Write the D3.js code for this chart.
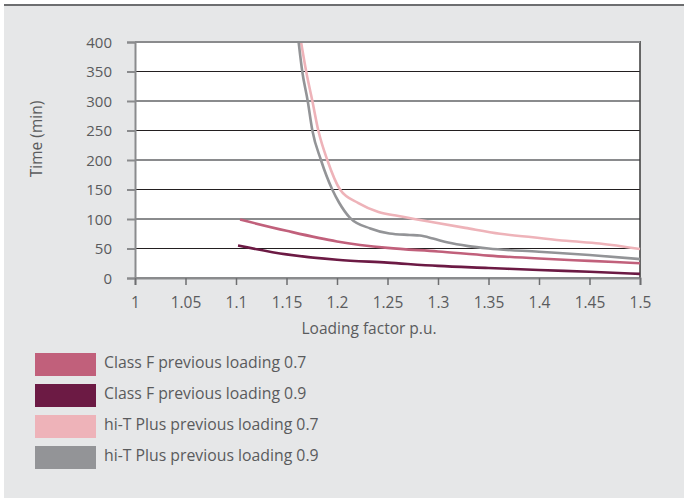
<!DOCTYPE html>
<html>
<head>
<meta charset="utf-8">
<script src="https://cdn.jsdelivr.net/npm/d3@7/dist/d3.min.js"></script>
<style>
  html, body { margin: 0; padding: 0; background: #ffffff; }
  svg { display: block; }
  text { font-family: "Open Sans", "Liberation Sans", sans-serif; font-weight: 400; fill: #5a5b5d; }
</style>
</head>
<body>
<svg id="chart" width="684" height="499"></svg>
<script>
// ---- data ----
const xTicks = [1, 1.05, 1.1, 1.15, 1.2, 1.25, 1.3, 1.35, 1.4, 1.45, 1.5];
const xTickLabels = ["1", "1.05", "1.1", "1.15", "1.2", "1.25", "1.3", "1.35", "1.4", "1.45", "1.5"];
const yTicks = [0, 50, 100, 150, 200, 250, 300, 350, 400];

const seriesNames = [
  "Class F previous loading 0.7",
  "Class F previous loading 0.9",
  "hi-T Plus previous loading 0.7",
  "hi-T Plus previous loading 0.9"
];
const seriesColors = ["#c1607b", "#6c1a44", "#eeb3b9", "#939497"];

const classF07X = [1.104, 1.15, 1.2, 1.25, 1.3, 1.35, 1.4, 1.45, 1.5];
const classF07Y = [99, 80, 62, 51, 45, 38, 33, 29, 25];

const classF09X = [1.102, 1.15, 1.2, 1.25, 1.3, 1.35, 1.4, 1.45, 1.5];
const classF09Y = [55, 40, 31, 26, 20.5, 17, 13.5, 10.5, 7];

const hiT07X = [1.1644, 1.1695, 1.1756, 1.1815, 1.1904, 1.2030, 1.2212, 1.2411, 1.2609, 1.2937, 1.327, 1.3614, 1.394, 1.427, 1.46, 1.5];
const hiT07Y = [400, 350, 300, 250, 200, 150, 127, 112, 105, 95, 85, 75, 69, 63, 58.5, 49];

const hiT09X = [1.1620, 1.1656, 1.1710, 1.1756, 1.1841, 1.1953, 1.2020, 1.2129, 1.233, 1.252, 1.272, 1.282, 1.295, 1.31, 1.33, 1.35, 1.4, 1.45, 1.5];
const hiT09Y = [400, 350, 300, 250, 200, 150, 128, 102, 84, 75.5, 73, 72, 67, 60, 54, 50, 44.5, 39, 32];

const seriesX = [classF07X, classF09X, hiT07X, hiT09X];
const seriesY = [classF07Y, classF09Y, hiT07Y, hiT09Y];

// ---- layout ----
const svg = d3.select("#chart");
const W = 684, H = 499;
const plot = { left: 135, right: 640, top: 42, bottom: 278 };
const FONT = "'Open Sans', 'Liberation Sans', sans-serif";
const TEXT = "#5a5b5d";

// panel background
svg.append("rect").attr("x", 4).attr("y", 4).attr("width", W - 4).attr("height", H - 5)
  .attr("fill", "#e6e7e8");
svg.append("line").attr("x1", 4).attr("x2", W).attr("y1", 5).attr("y2", 5)
  .attr("stroke", "#6d6e70").attr("stroke-width", 2);

const x = d3.scaleLinear().domain([1, 1.5]).range([plot.left, plot.right]);
const y = d3.scaleLinear().domain([0, 400]).range([plot.bottom, plot.top]);

// plot area
svg.append("rect").attr("x", plot.left).attr("y", plot.top)
  .attr("width", plot.right - plot.left).attr("height", plot.bottom - plot.top)
  .attr("fill", "#ffffff");

// gridlines: alternating heavy grey / thin black
const grid = svg.append("g");
yTicks.forEach(t => {
  const heavy = (t % 100 === 0);
  grid.append("line")
    .attr("x1", plot.left).attr("x2", plot.right)
    .attr("y1", y(t)).attr("y2", y(t))
    .attr("stroke", heavy ? "#8a8b8d" : "#231f20")
    .attr("stroke-width", heavy ? 2 : 1.2);
});
// right border
svg.append("line").attr("x1", plot.right).attr("x2", plot.right)
  .attr("y1", plot.top - 1).attr("y2", plot.bottom)
  .attr("stroke", "#3a3a3a").attr("stroke-width", 1.5);

// axes
const yAxis = d3.axisLeft(y).tickValues(yTicks).tickSize(8).tickPadding(15)
  .tickFormat(d3.format("d"));
const gy = svg.append("g").attr("transform", `translate(${plot.left},0)`).call(yAxis);
gy.select(".domain").attr("stroke", "#8a8b8d").attr("stroke-width", 2);
gy.selectAll(".tick line").attr("stroke", "#8a8b8d").attr("stroke-width", 2);
gy.selectAll(".tick text").attr("font-size", 15).attr("font-family", FONT)
  .attr("fill", TEXT).attr("dy", "0.35em");

const xAxis = d3.axisBottom(x).tickValues(xTicks).tickSize(7).tickPadding(12)
  .tickFormat((d, i) => xTickLabels[i]);
const gx = svg.append("g").attr("transform", `translate(0,${plot.bottom})`).call(xAxis);
gx.select(".domain").attr("stroke", "#8a8b8d").attr("stroke-width", 2);
gx.selectAll(".tick line").attr("stroke", "#6d6e70").attr("stroke-width", 1.5);
gx.selectAll(".tick text").attr("font-size", 15.5).attr("font-family", FONT)
  .attr("fill", TEXT);

// axis titles
svg.append("text").attr("x", 369).attr("y", 334).attr("text-anchor", "middle")
  .attr("font-size", 15.5).text("Loading factor p.u.");
svg.append("text").attr("transform", "translate(42,139) rotate(-90)")
  .attr("text-anchor", "middle").attr("font-size", 15.5).text("Time (min)");

// lines
const line = d3.line().x(d => x(d[0])).y(d => y(d[1])).curve(d3.curveMonotoneX);
const lines = svg.append("g");
seriesNames.forEach((name, i) => {
  const pts = seriesX[i].map((v, j) => [v, seriesY[i][j]]);
  lines.append("path").datum(pts)
    .attr("d", line)
    .attr("fill", "none")
    .attr("stroke", seriesColors[i])
    .attr("stroke-width", 2.6)
    .attr("stroke-linejoin", "round");
});
// redraw top border over line ends
svg.append("line").attr("x1", plot.left).attr("x2", plot.right)
  .attr("y1", plot.top).attr("y2", plot.top)
  .attr("stroke", "#8a8b8d").attr("stroke-width", 2);

// legend
const legend = svg.append("g");
seriesNames.forEach((name, i) => {
  const yy = 353 + i * 31;
  legend.append("rect").attr("x", 35).attr("y", yy).attr("width", 61).attr("height", 23)
    .attr("fill", seriesColors[i]);
  legend.append("text").attr("x", 104).attr("y", yy + 14.5).attr("font-size", 15.8)
    .text(name);
});
</script>
</body>
</html>
